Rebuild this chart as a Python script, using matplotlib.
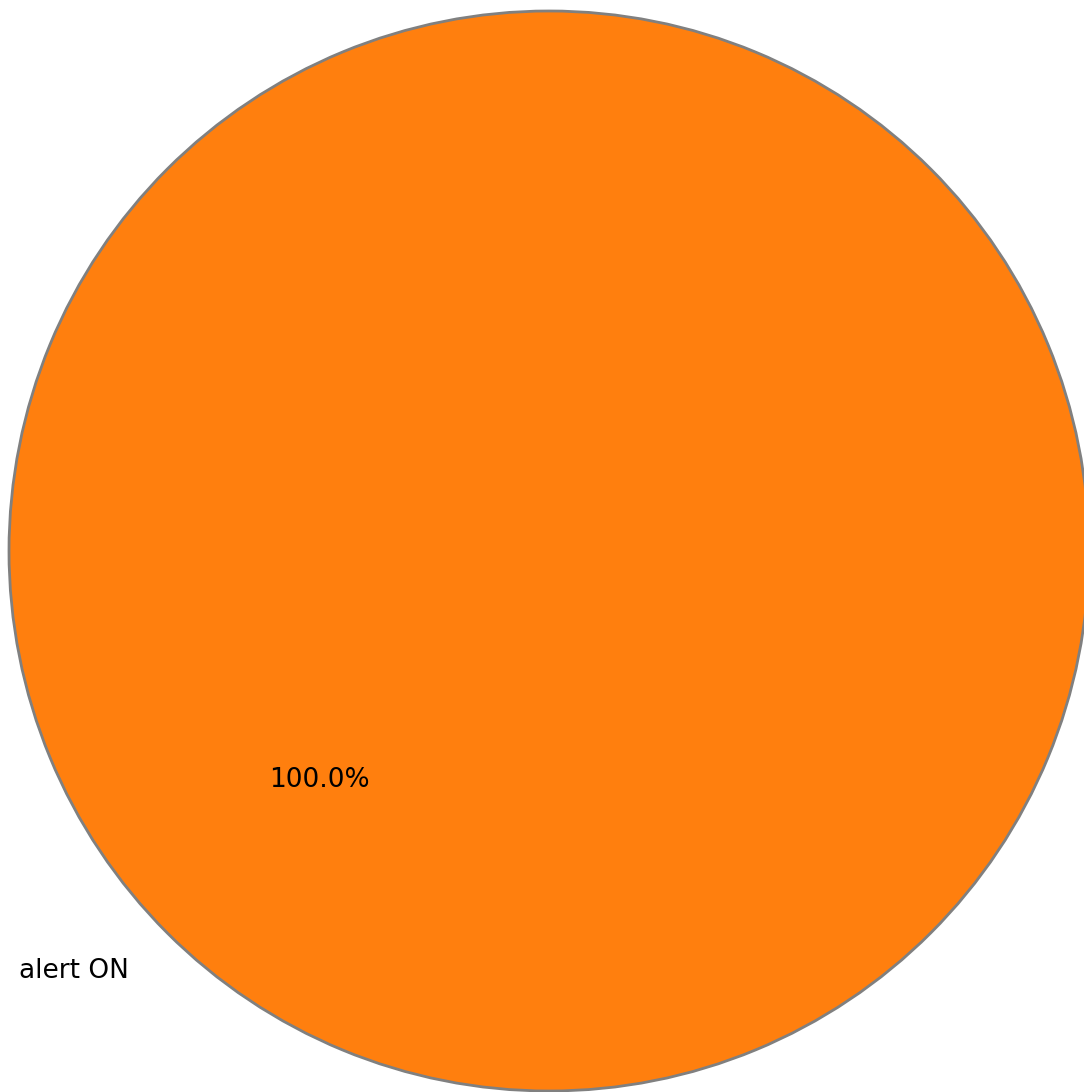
import matplotlib
matplotlib.use("Agg")
import matplotlib.pyplot as plt

labels = ["alert ON"]
values = [100.0]
colors = ["#ff7f0e"]

fig = plt.figure(figsize=(10.84, 10.92), dpi=100)
ax = fig.add_axes([9/1084, 1/1092, 1080/1084, 1080/1092])
ax.pie(values, labels=labels, colors=colors, autopct="%1.1f%%", startangle=45,
       labeldistance=1.1, pctdistance=0.6,
       wedgeprops=dict(edgecolor="#808080", linewidth=2),
       textprops=dict(fontsize=19))
ax.set_xlim(-1, 1)
ax.set_ylim(-1, 1)
ax.set_aspect("equal")
ax.axis("off")
fig.savefig("out.png", dpi=100)
